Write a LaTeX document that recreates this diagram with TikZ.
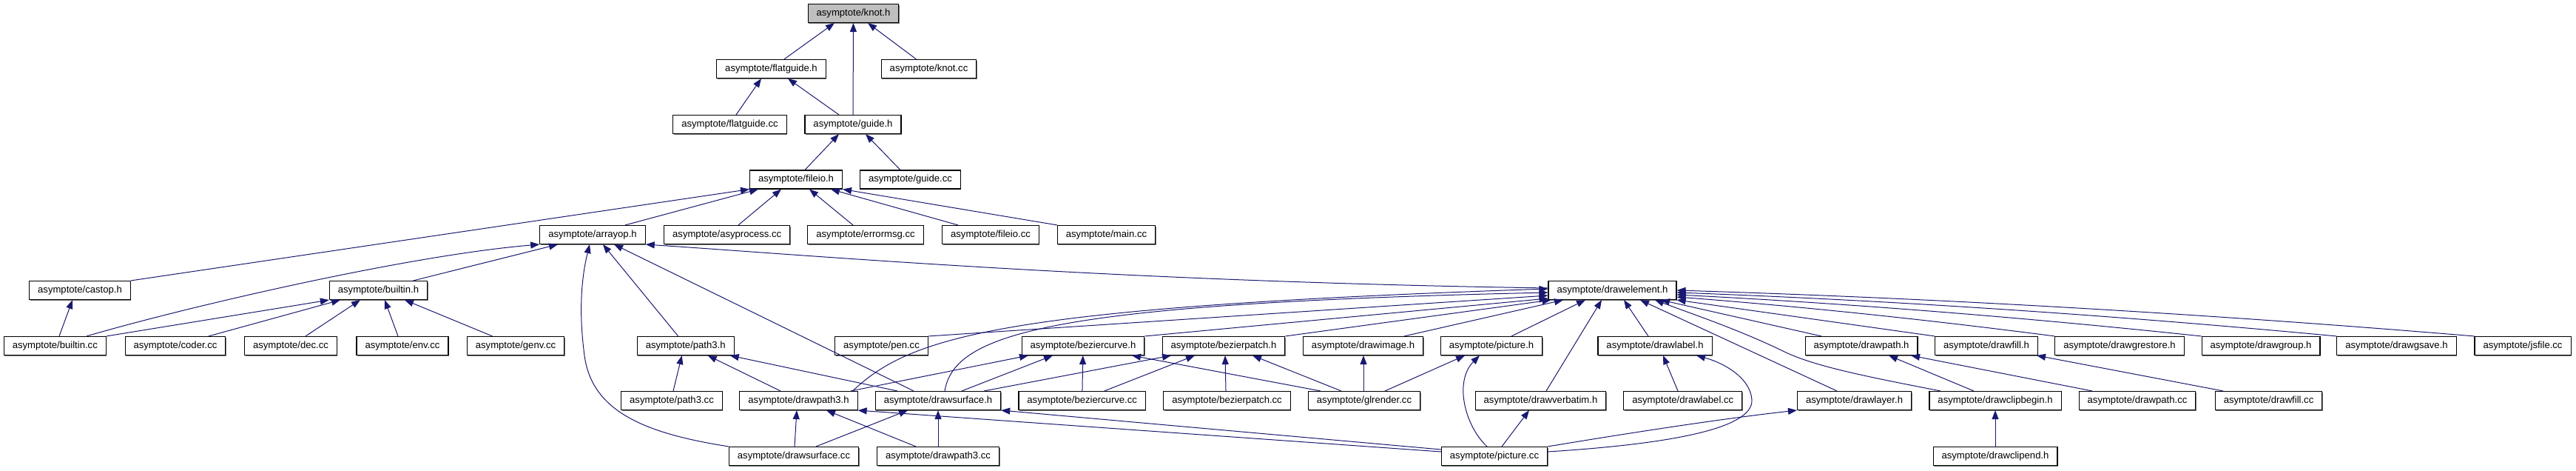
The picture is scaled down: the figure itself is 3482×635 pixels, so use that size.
\documentclass[tikz,border=0pt]{standalone}
\usepackage{fontspec}
\setmainfont{Liberation Sans}
\usepackage{tikz}
\usetikzlibrary{arrows.meta, shadows}
\definecolor{edgeblue}{HTML}{191970}
\definecolor{rootgray}{HTML}{BFBFBF}

\begin{document}
\begin{tikzpicture}[x=1pt, y=-1pt,
  file/.style={draw=black, line width=1.1pt, fill=white, inner xsep=11.5pt, inner ysep=0pt,
    minimum height=25pt, font=\fontsize{13.1}{15}\selectfont,
    drop shadow={shadow xshift=1pt, shadow yshift=-1pt, fill=black!55, opacity=1}},
  root/.style={file, fill=rootgray},
  inc/.style={draw=edgeblue, line width=1pt, -{Triangle[length=12pt,width=9pt]}}]
  \useasboundingbox (0,0) rectangle (3482,635);

  \node[root] (knoth) at (1153.5,18) {asymptote/knot.h};
  \node[file] (flatguideh) at (1042.5,93) {asymptote/flatguide.h};
  \node[file] (knotcc) at (1255.5,93) {asymptote/knot.cc};
  \node[file] (flatguidecc) at (986.5,168) {asymptote/flatguide.cc};
  \node[file] (guideh) at (1153,168) {asymptote/guide.h};
  \node[file] (fileioh) at (1076,242.5) {asymptote/fileio.h};
  \node[file] (guidecc) at (1230.5,242.5) {asymptote/guide.cc};
  \node[file] (arrayoph) at (801,317) {asymptote/arrayop.h};
  \node[file] (asyprocesscc) at (982.7,317) {asymptote/asyprocess.cc};
  \node[file] (errormsgcc) at (1170,317) {asymptote/errormsg.cc};
  \node[file] (fileiocc) at (1339,317) {asymptote/fileio.cc};
  \node[file] (maincc) at (1495.5,317) {asymptote/main.cc};
  \node[file] (castoph) at (108,392) {asymptote/castop.h};
  \node[file] (builtinh) at (511.5,392) {asymptote/builtin.h};
  \node[file] (drawelementh) at (2179.5,392) {asymptote/drawelement.h};
  \node[file] (builtincc) at (74.3,467) {asymptote/builtin.cc};
  \node[file] (codercc) at (237,467) {asymptote/coder.cc};
  \node[file] (deccc) at (393,467) {asymptote/dec.cc};
  \node[file] (envcc) at (544,467) {asymptote/env.cc};
  \node[file] (genvcc) at (697,467) {asymptote/genv.cc};
  \node[file] (path3h) at (926.7,467) {asymptote/path3.h};
  \node[file] (pencc) at (1191.5,467) {asymptote/pen.cc};
  \node[file] (beziercurveh) at (1464,467) {asymptote/beziercurve.h};
  \node[file] (bezierpatchh) at (1654,467) {asymptote/bezierpatch.h};
  \node[file] (drawimageh) at (1842.5,467) {asymptote/drawimage.h};
  \node[file] (pictureh) at (2016,467) {asymptote/picture.h};
  \node[file] (drawlabelh) at (2237,467) {asymptote/drawlabel.h};
  \node[file] (drawpathh) at (2516,467) {asymptote/drawpath.h};
  \node[file] (drawfillh) at (2685,467) {asymptote/drawfill.h};
  \node[file] (drawgrestoreh) at (2865,467) {asymptote/drawgrestore.h};
  \node[file] (drawgrouph) at (3056,467) {asymptote/drawgroup.h};
  \node[file] (drawgsaveh) at (3239.5,467) {asymptote/drawgsave.h};
  \node[file] (jsfilecc) at (3410,467) {asymptote/jsfile.cc};
  \node[file] (path3cc) at (908,541) {asymptote/path3.cc};
  \node[file] (drawpath3h) at (1079.5,541) {asymptote/drawpath3.h};
  \node[file] (drawsurfaceh) at (1268,541) {asymptote/drawsurface.h};
  \node[file] (beziercurvecc) at (1462.7,541) {asymptote/beziercurve.cc};
  \node[file] (bezierpatchcc) at (1658.5,541) {asymptote/bezierpatch.cc};
  \node[file] (glrendercc) at (1844,541) {asymptote/glrender.cc};
  \node[file] (drawverbatimh) at (2082.5,541) {asymptote/drawverbatim.h};
  \node[file] (drawlabelcc) at (2274.7,541) {asymptote/drawlabel.cc};
  \node[file] (drawlayerh) at (2506.5,541) {asymptote/drawlayer.h};
  \node[file] (drawclipbeginh) at (2697,541) {asymptote/drawclipbegin.h};
  \node[file] (drawpathcc) at (2889,541) {asymptote/drawpath.cc};
  \node[file] (drawfillcc) at (3066.5,541) {asymptote/drawfill.cc};
  \node[file] (drawsurfacecc) at (1073,616) {asymptote/drawsurface.cc};
  \node[file] (drawpath3cc) at (1268,616) {asymptote/drawpath3.cc};
  \node[file] (picturecc) at (2020,616) {asymptote/picture.cc};
  \node[file] (drawclipendh) at (2697,616) {asymptote/drawclipend.h};

  % knot.h, flatguide.h, guide.h
  \draw[inc] ([xshift=17.5pt]flatguideh.north) -- ([xshift=-25.5pt]knoth.south);
  \draw[inc] (guideh) -- (knoth);
  \draw[inc] ([xshift=-17pt]knotcc.north) -- ([xshift=19.5pt]knoth.south);
  \draw[inc] ([xshift=8.5pt]flatguidecc.north) -- ([xshift=-13.5pt]flatguideh.south);
  \draw[inc] ([xshift=-19pt]guideh.north) -- ([xshift=22.5pt]flatguideh.south);
  \draw[inc] ([xshift=12pt]fileioh.north) -- ([xshift=-19pt]guideh.south);
  \draw[inc] ([xshift=-13.5pt]guidecc.north) -- ([xshift=17pt]guideh.south);

  % fileio.h
  \draw[inc] ([xshift=44pt]arrayoph.north) -- ([xshift=-51pt]fileioh.south);
  \draw[inc] ([xshift=15.3pt]asyprocesscc.north) -- ([xshift=-20pt]fileioh.south);
  \draw[inc] ([xshift=-17pt]errormsgcc.north) -- ([xshift=18pt]fileioh.south);
  \draw[inc] ([xshift=-44pt]fileiocc.north) -- ([xshift=47pt]fileioh.south);
  \draw[inc] ([xshift=-66.5pt]maincc.north) -- (fileioh.south east);
  \draw[inc] (castoph.north east) -- (fileioh.south west);

  % arrayop.h
  \draw[inc] ([xshift=47pt]builtinh.north) -- ([xshift=-47pt]arrayoph.south);
  \draw[inc] ([xshift=42.7pt]builtincc.north) .. controls (250,415) and (550,345) .. (arrayoph.south west);
  \draw[inc] ([xshift=-10pt]path3h.north) -- ([xshift=14pt]arrayoph.south);
  \draw[inc] ([xshift=-33pt]drawsurfaceh.north) -- ([xshift=29pt]arrayoph.south);
  \draw[inc] (drawsurfacecc.north west) .. controls (870,585) and (800,555) .. (790,480)
    .. controls (782,420) and (786,375) .. ([xshift=-4pt]arrayoph.south);
  \draw[inc] ([yshift=3pt]drawelementh.west) .. controls (1500,380) and (1100,345) .. (arrayoph.south east);

  % castop.h, builtin.h, path3.h
  \draw[inc] ([xshift=5.7pt]builtincc.north) -- ([xshift=-10pt]castoph.south);
  \draw[inc] (builtincc.north east) -- (builtinh.south west);
  \draw[inc] ([xshift=45pt]codercc.north) -- ([xshift=-51.5pt]builtinh.south);
  \draw[inc] ([xshift=20pt]deccc.north) -- ([xshift=-24.5pt]builtinh.south);
  \draw[inc] ([xshift=-6pt]envcc.north) -- ([xshift=8.5pt]builtinh.south);
  \draw[inc] ([xshift=-31.4pt]genvcc.north) -- ([xshift=35.5pt]builtinh.south);
  \draw[inc] ([xshift=2pt]path3cc.north) -- ([xshift=-5pt]path3h.south);
  \draw[inc] ([xshift=-24.5pt]drawpath3h.north) -- ([xshift=30pt]path3h.south);
  \draw[inc] ([xshift=-55pt]drawsurfaceh.north) -- ([xshift=60pt]path3h.south);

  % drawelement.h
  \draw[inc] ([xshift=73pt]drawpath3h.north) .. controls (1230,455) and (1350,415) .. ([yshift=2pt]drawelementh.west);
  \draw[inc] ([xshift=9pt]drawsurfaceh.north) .. controls (1290,450) and (1420,410) .. ([yshift=-3pt]drawelementh.west);
  \draw[inc] (pencc.north east) -- ([yshift=-7pt]drawelementh.west);
  \draw[inc] (beziercurveh.north east) -- ([yshift=-11pt]drawelementh.west);
  \draw[inc] (bezierpatchh.north east) -- ([xshift=4pt]drawelementh.south west);
  \draw[inc] ([xshift=55.5pt]drawimageh.north) -- ([xshift=-66.5pt]drawelementh.south);
  \draw[inc] ([xshift=27pt]pictureh.north) -- ([xshift=-36.5pt]drawelementh.south);
  \draw[inc] ([xshift=7.5pt]drawverbatimh.north) -- ([xshift=-14.5pt]drawelementh.south);
  \draw[inc] ([xshift=-9pt]drawlabelh.north) -- ([xshift=15.5pt]drawelementh.south);
  \draw[inc] ([xshift=-23.5pt]drawlayerh.north) -- ([xshift=37.5pt]drawelementh.south);
  \draw[inc] ([xshift=-74pt]drawclipbeginh.north) .. controls (2520,508) and (2450,494) .. (2410,474)
    .. controls (2350,445) and (2290,425) .. ([xshift=57.5pt]drawelementh.south);
  \draw[inc] ([xshift=-54pt]drawpathh.north) -- ([xshift=65.5pt]drawelementh.south);
  \draw[inc] (drawfillh.north west) -- (drawelementh.south east);
  \draw[inc] (drawgrestoreh.north west) .. controls (2608,432) and (2437,414) .. ([yshift=-9pt]drawelementh.east);
  \draw[inc] (drawgrouph.north west) .. controls (2740,429) and (2503,410) .. ([yshift=-6pt]drawelementh.east);
  \draw[inc] (drawgsaveh.north west) .. controls (2861,426) and (2564,406) .. ([yshift=-3pt]drawelementh.east);
  \draw[inc] (jsfilecc.north west) .. controls (2985,424) and (2625,403) .. (drawelementh.east);

  % lower rows
  \draw[inc] ([xshift=-1pt]glrendercc.north) -- ([xshift=0.5pt]drawimageh.south);
  \draw[inc] ([xshift=28pt]glrendercc.north) -- ([xshift=-36pt]pictureh.south);
  \draw[inc] ([xshift=-59pt]glrendercc.north) -- ([xshift=66pt]beziercurveh.south);
  \draw[inc] ([xshift=-31pt]glrendercc.north) -- ([xshift=39pt]bezierpatchh.south);
  \draw[inc] ([xshift=-10pt]picturecc.north) .. controls (1980,575) and (1965,515) .. ([xshift=-16pt]pictureh.south);
  \draw[inc] ([xshift=10pt]picturecc.north) -- ([xshift=-15.5pt]drawverbatimh.south);
  \draw[inc] ([xshift=-6.7pt]drawlabelcc.north) -- ([xshift=11pt]drawlabelh.south);
  \draw[inc] ([yshift=6pt]picturecc.east) .. controls (2250,600) and (2370,580) .. (2368,540)
    .. controls (2366,510) and (2330,490) .. ([xshift=56pt]drawlabelh.south);
  \draw[inc] (picturecc.north east) .. controls (2200,585) and (2330,565) .. (drawlayerh.south west);
  \draw[inc] ([xshift=-29pt]drawclipbeginh.north) -- ([xshift=37pt]drawpathh.south);
  \draw[inc] ([xshift=-61pt]drawpathcc.north) -- ([xshift=67pt]drawpathh.south);
  \draw[inc] ([xshift=-61.5pt]drawfillcc.north) -- ([xshift=68pt]drawfillh.south);
  \draw[inc] (drawclipendh) -- (drawclipbeginh);
  \draw[inc] ([xshift=1pt]drawsurfacecc.north) -- ([xshift=-2.5pt]drawpath3h.south);
  \draw[inc] ([xshift=-30pt]drawpath3cc.north) -- ([xshift=37.5pt]drawpath3h.south);
  \draw[inc] ([yshift=6pt]picturecc.west) -- (drawpath3h.south east);
  \draw[inc] ([xshift=30pt]drawsurfacecc.north) -- ([xshift=-41pt]drawsurfaceh.south);
  \draw[inc] (drawpath3cc) -- (drawsurfaceh);
  \draw[inc] ([yshift=9pt]picturecc.west) -- (drawsurfaceh.south east);
  \draw[inc] (beziercurvecc) -- (beziercurveh);
  \draw[inc] ([xshift=30pt]beziercurvecc.north) -- ([xshift=-39pt]bezierpatchh.south);
  \draw[inc] ([xshift=-1.5pt]bezierpatchcc.north) -- ([xshift=2pt]bezierpatchh.south);
  \draw[inc] ([xshift=32pt]drawsurfaceh.north) -- ([xshift=-41pt]beziercurveh.south);
  \draw[inc] ([xshift=62pt]drawsurfaceh.north) -- ([xshift=-71pt]bezierpatchh.south);
  \draw[inc] ([xshift=70.5pt]drawpath3h.north) -- ([xshift=-74pt]beziercurveh.south);
\end{tikzpicture}
\end{document}
